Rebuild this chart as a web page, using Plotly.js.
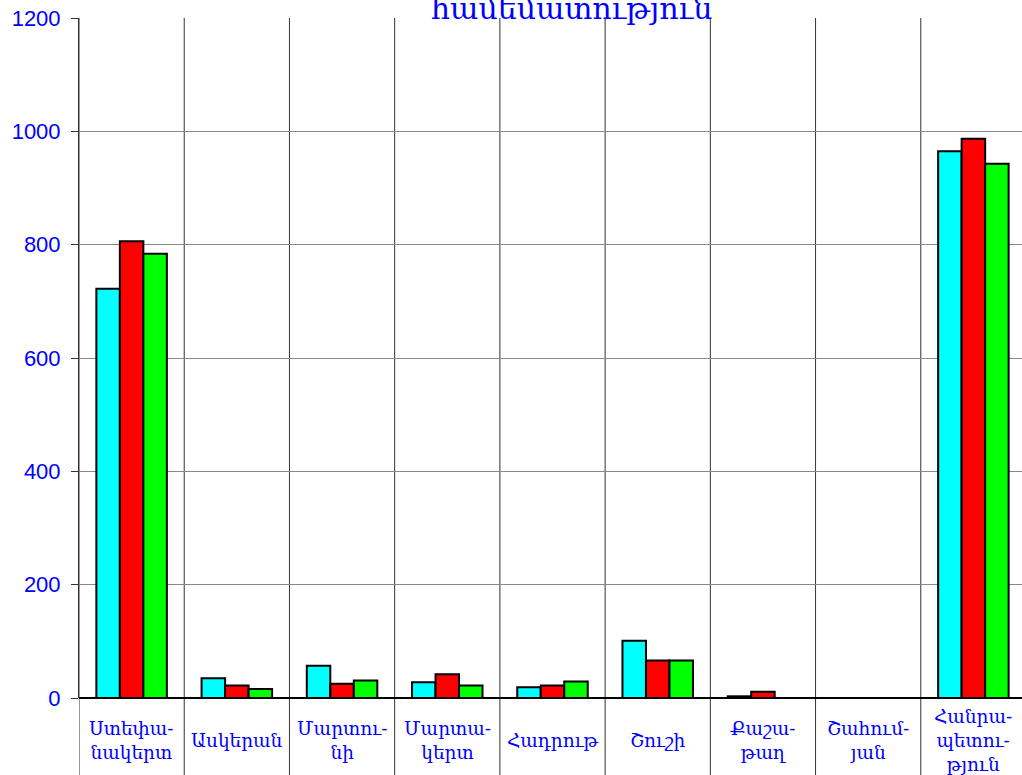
<!DOCTYPE html>
<html>
<head>
<meta charset="utf-8">
<script src="https://cdn.plot.ly/plotly-3.0.1.min.js"></script>
<style>html,body{margin:0;padding:0;overflow:hidden;background:#fff;}</style>
</head>
<body>
<div id="chart"></div>
<script>
const categories = ["Ստեփանակերտ", "Ասկերան", "Մարտունի", "Մարտակերտ", "Հադրութ", "Շուշի", "Քաշաթաղ", "Շահումյան", "Հանրապետություն"];
const categoryLabels = ["Ստեփա-<br>նակերտ", "Ասկերան", "Մարտու-<br>նի", "Մարտա-<br>կերտ", "Հադրութ", "Շուշի", "Քաշա-<br>թաղ", "Շահում-<br>յան", "Հանրա-<br>պետու-<br>թյուն"];
const seriesA = [722, 35, 57, 28, 19, 101, 3, null, 965];
const seriesB = [806, 22, 25, 42, 22, 66, 11, null, 987];
const seriesC = [784, 16, 31, 22, 29, 66, null, null, 943];
const titleText = "համեմատություն";
const yTicks = [0, 200, 400, 600, 800, 1000, 1200];

const idx = categories.map((c, i) => i);
function bar(name, vals, color) {
  return {type: 'bar', name: name, x: idx, y: vals,
    marker: {color: color, line: {color: '#000', width: 2}},
    hoverinfo: 'y', showlegend: false};
}
const data = [
  bar('Ա', seriesA, '#00FFFF'),
  bar('Բ', seriesB, '#FF0000'),
  bar('Գ', seriesC, '#00FF00')
];

const shapes = [];
for (let i = 0; i <= categories.length; i++) {
  shapes.push({type: 'line', xref: 'x', yref: 'paper', x0: i - 0.5, x1: i - 0.5, y0: -0.2, y1: 1,
    line: {color: '#333', width: 1}, layer: 'below'});
}
const annotations = categoryLabels.map((t, i) => ({
  x: i, y: 0, xref: 'x', yref: 'paper', yshift: -42, yanchor: 'middle', xanchor: 'center',
  text: t, showarrow: false, font: {family: 'DejaVu Serif', size: 18.5, color: '#0000FF'}
}));
annotations.push({x: 0.52, y: 1, xref: 'paper', yref: 'paper', yanchor: 'bottom', yshift: -10,
  xanchor: 'center', text: titleText, showarrow: false,
  font: {family: 'DejaVu Serif', size: 30, color: '#0000FF'}});

const layout = {
  width: 1030, height: 775,
  margin: {l: 79, r: 4, t: 18, b: 77},
  paper_bgcolor: '#fff', plot_bgcolor: '#fff',
  barmode: 'group', bargap: 0.33, bargroupgap: 0,
  xaxis: {range: [-0.5, categories.length - 0.5], showticklabels: false, showgrid: false,
    zeroline: false, showline: false, ticks: '', fixedrange: true},
  yaxis: {range: [0, 1200], tickvals: yTicks, ticktext: yTicks.map(String),
    showgrid: true, gridcolor: '#888', gridwidth: 1,
    showline: true, linecolor: '#333', linewidth: 1,
    ticks: 'outside', ticklen: 7, tickcolor: '#333', ticklabelstandoff: 6,
    zeroline: true, zerolinecolor: '#000', zerolinewidth: 2,
    tickfont: {family: 'Liberation Sans', size: 22, color: '#0000FF'}, fixedrange: true},
  shapes: shapes,
  annotations: annotations
};
Plotly.newPlot('chart', data, layout, {displayModeBar: false, staticPlot: true});
</script>
</body>
</html>
